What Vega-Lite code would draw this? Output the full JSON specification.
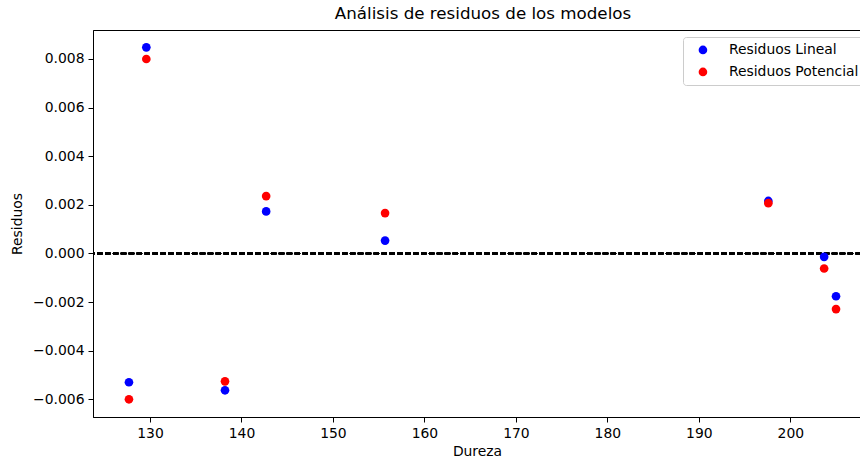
{
  "$schema": "https://vega.github.io/schema/vega-lite/v6.json",
  "width": 768,
  "height": 387,
  "autosize": {"type": "none"},
  "padding": {"left": 93, "top": 30, "right": 0, "bottom": 47},
  "background": "white",
  "title": {"text": "Análisis de residuos de los modelos", "fontSize": 16.7, "fontWeight": "normal", "font": "DejaVu Sans", "color": "black", "anchor": "middle", "offset": 7, "dx": 6},
  "config": {
    "font": "DejaVu Sans",
    "view": {"stroke": "black", "strokeWidth": 1},
    "axis": {
      "grid": false,
      "domainColor": "black",
      "domainWidth": 1,
      "tickColor": "black",
      "tickSize": 5,
      "tickWidth": 1,
      "labelFont": "DejaVu Sans",
      "labelFontSize": 13.9,
      "labelColor": "black",
      "labelPadding": 4,
      "titleFont": "DejaVu Sans",
      "titleFontSize": 13.9,
      "titleFontWeight": "normal",
      "titleColor": "black"
    },
    "legend": {
      "labelFont": "DejaVu Sans",
      "labelFontSize": 13.9,
      "labelColor": "black"
    }
  },
  "data": {
    "values": [
      {"Dureza": 127.7, "Residuo": -0.0053, "Modelo": "Residuos Lineal"},
      {"Dureza": 129.6, "Residuo": 0.00848, "Modelo": "Residuos Lineal"},
      {"Dureza": 138.2, "Residuo": -0.00563, "Modelo": "Residuos Lineal"},
      {"Dureza": 142.7, "Residuo": 0.00173, "Modelo": "Residuos Lineal"},
      {"Dureza": 155.7, "Residuo": 0.00053, "Modelo": "Residuos Lineal"},
      {"Dureza": 197.6, "Residuo": 0.00216, "Modelo": "Residuos Lineal"},
      {"Dureza": 203.7, "Residuo": -0.00014, "Modelo": "Residuos Lineal"},
      {"Dureza": 205.0, "Residuo": -0.00176, "Modelo": "Residuos Lineal"},
      {"Dureza": 127.7, "Residuo": -0.0060, "Modelo": "Residuos Potencial"},
      {"Dureza": 129.6, "Residuo": 0.0080, "Modelo": "Residuos Potencial"},
      {"Dureza": 138.2, "Residuo": -0.00526, "Modelo": "Residuos Potencial"},
      {"Dureza": 142.7, "Residuo": 0.00236, "Modelo": "Residuos Potencial"},
      {"Dureza": 155.7, "Residuo": 0.00166, "Modelo": "Residuos Potencial"},
      {"Dureza": 197.6, "Residuo": 0.00207, "Modelo": "Residuos Potencial"},
      {"Dureza": 203.7, "Residuo": -0.00062, "Modelo": "Residuos Potencial"},
      {"Dureza": 205.0, "Residuo": -0.00229, "Modelo": "Residuos Potencial"}
    ]
  },
  "layer": [
    {
      "mark": {"type": "rule", "color": "black", "strokeDash": [5.5, 2.4], "strokeWidth": 1.5},
      "encoding": {"y": {"datum": 0, "type": "quantitative"}}
    },
    {
      "mark": {"type": "circle", "size": 75, "opacity": 1},
      "encoding": {
        "x": {
          "field": "Dureza", "type": "quantitative",
          "scale": {"domain": [123.77, 207.73], "nice": false, "zero": false},
          "axis": {"title": "Dureza", "values": [130, 140, 150, 160, 170, 180, 190, 200], "titlePadding": 5}
        },
        "y": {
          "field": "Residuo", "type": "quantitative",
          "scale": {"domain": [-0.006728, 0.009193], "nice": false, "zero": false},
          "axis": {"title": "Residuos", "values": [-0.006, -0.004, -0.002, 0, 0.002, 0.004, 0.006, 0.008], "format": ".3f", "titlePadding": 8}
        },
        "color": {
          "field": "Modelo", "type": "nominal",
          "scale": {"domain": ["Residuos Lineal", "Residuos Potencial"], "range": ["#0000ff", "#ff0000"]},
          "legend": {
            "title": null,
            "orient": "none",
            "legendX": 590,
            "legendY": 7,
            "fillColor": "white",
            "strokeColor": "#cccccc",
            "cornerRadius": 3,
            "padding": 6,
            "symbolType": "circle",
            "symbolSize": 75,
            "symbolOffset": 7,
            "symbolStrokeWidth": 0,
            "symbolOpacity": 1,
            "labelOffset": 19,
            "rowPadding": 7
          }
        }
      }
    }
  ]
}
